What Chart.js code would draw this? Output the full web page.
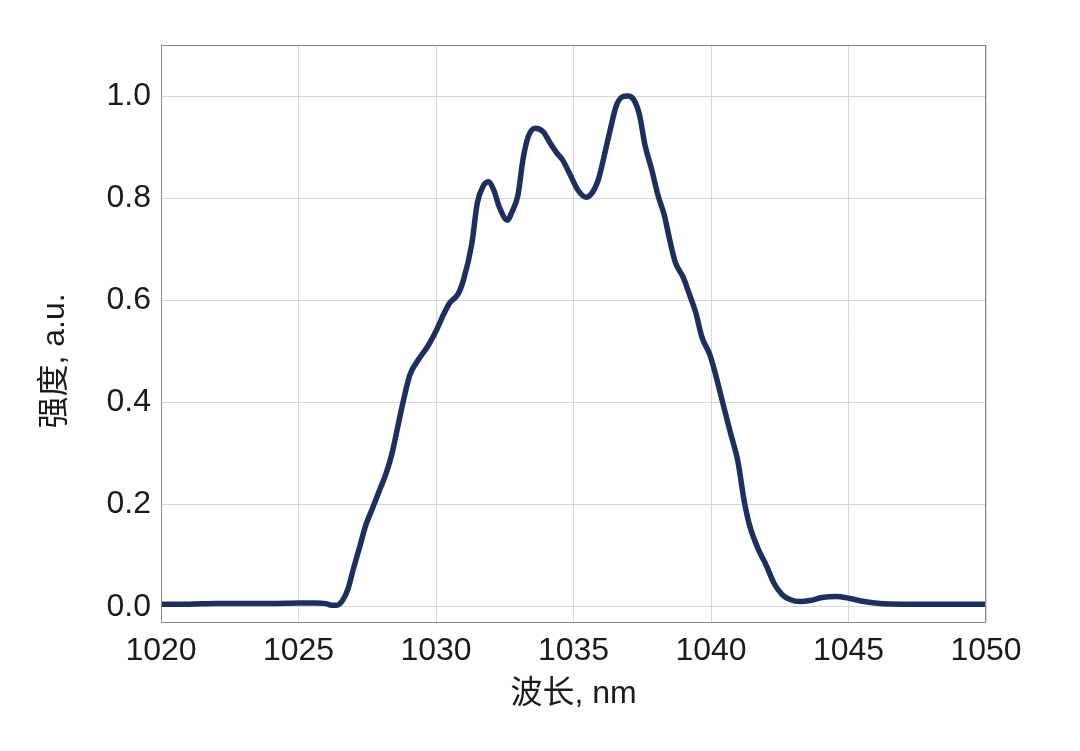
<!DOCTYPE html>
<html>
<head>
<meta charset="utf-8">
<script src="https://cdn.jsdelivr.net/npm/chart.js@4/dist/chart.umd.min.js"></script>
<style>
  html, body { margin: 0; padding: 0; background: #fff; }
  #wrap { width: 1080px; height: 751px; }
</style>
</head>
<body>
<div id="wrap"><canvas id="spectrum"></canvas></div>
<script>
// wavelength (nm) and intensity
const wavelength = [1020, 1021, 1022, 1023, 1024, 1025, 1025.6, 1026, 1026.2, 1026.4, 1026.6, 1026.8, 1027, 1027.24, 1027.45,
  1027.67, 1027.96, 1028.18, 1028.4, 1028.6, 1028.8, 1029.05, 1029.35, 1029.7, 1030, 1030.3, 1030.5, 1030.8,
  1031, 1031.3, 1031.5, 1031.7, 1031.9, 1032.1, 1032.3, 1032.6, 1032.76, 1032.98, 1033.16, 1033.35, 1033.6,
  1033.9, 1034.15, 1034.4, 1034.6, 1034.87, 1035.16, 1035.45, 1035.67, 1035.9, 1036.1, 1036.33, 1036.55,
  1036.76, 1036.98, 1037.2, 1037.4, 1037.6, 1037.85, 1038.07, 1038.3, 1038.5, 1038.7, 1039, 1039.2, 1039.45,
  1039.67, 1039.96, 1040.2, 1040.4, 1040.7, 1040.98, 1041.2, 1041.4, 1041.7, 1042, 1042.3, 1042.6, 1042.87,
  1043.24, 1043.6, 1044.04, 1044.55, 1045.05, 1045.56, 1046.15, 1047, 1048, 1049, 1050];
const intensity = [0.005, 0.005, 0.006, 0.006, 0.006, 0.007, 0.007, 0.006, 0.003, 0.003, 0.012, 0.035, 0.075, 0.12, 0.16,
  0.19, 0.23, 0.26, 0.30, 0.35, 0.40, 0.454, 0.483, 0.51, 0.54, 0.575, 0.595, 0.612,
  0.64, 0.71, 0.79, 0.822, 0.832, 0.816, 0.783, 0.757, 0.773, 0.806, 0.875, 0.92, 0.937,
  0.93, 0.908, 0.888, 0.875, 0.847, 0.816, 0.802, 0.81, 0.836, 0.879, 0.933, 0.98,
  0.998, 1.0, 0.992, 0.963, 0.904, 0.855, 0.806, 0.767, 0.718, 0.675, 0.644, 0.614, 0.575,
  0.528, 0.493, 0.448, 0.405, 0.342, 0.284, 0.209, 0.16, 0.115, 0.082, 0.045, 0.023, 0.014,
  0.01, 0.012, 0.018, 0.02, 0.016, 0.01, 0.006, 0.005, 0.005, 0.005, 0.005];
const xTicks = [1020, 1025, 1030, 1035, 1040, 1045, 1050];
const yTicks = [0, 0.2, 0.4, 0.6, 0.8, 1.0];
const xTitle = '波长, nm';
const yTitle = '强度, a.u.';

const points = wavelength.map((w, i) => ({ x: w, y: intensity[i] }));

const font = '"Liberation Sans", "Noto Sans CJK SC", sans-serif';

// plot frame + y title (the title sits a bit below the plot centre in the original)
const frame = {
  id: 'frame',
  afterDraw(chart) {
    const { ctx, chartArea: { left, top, width, height } } = chart;
    ctx.save();
    ctx.strokeStyle = '#8a8a8a';
    ctx.lineWidth = 1;
    ctx.strokeRect(left + 0.5, top + 0.5, width - 1, height);
    ctx.translate(55, 361);
    ctx.rotate(-Math.PI / 2);
    ctx.fillStyle = '#1a1a1a';
    ctx.font = '32px ' + font;
    ctx.textAlign = 'center';
    ctx.textBaseline = 'middle';
    ctx.fillText(yTitle, 0, 0);
    ctx.restore();
  }
};

new Chart(document.getElementById('spectrum'), {
  type: 'line',
  data: {
    datasets: [{
      data: points,
      borderColor: '#1e2f5f',
      borderWidth: 5.5,
      pointRadius: 0,
      fill: false,
      cubicInterpolationMode: 'monotone',
      borderCapStyle: 'round',
      borderJoinStyle: 'round'
    }]
  },
  options: {
    responsive: true,
    maintainAspectRatio: false,
    animation: false,
    layout: { padding: { left: 0, right: 94, top: 45, bottom: 38 } },
    plugins: { legend: { display: false }, tooltip: { enabled: false } },
    scales: {
      x: {
        type: 'linear',
        min: 1020,
        max: 1050,
        afterBuildTicks: (s) => { s.ticks = xTicks.map(v => ({ value: v })); },
        afterFit: (s) => { s.height = 91; },
        grid: { color: '#d6d6d6', lineWidth: 1, drawTicks: false },
        border: { display: false },
        ticks: { color: '#1a1a1a', font: { family: font, size: 32 }, padding: 10, maxRotation: 0, callback: v => String(v) },
        title: { display: true, text: xTitle, color: '#1a1a1a', font: { family: font, size: 32 }, padding: { top: 0, bottom: 0 } }
      },
      y: {
        min: -0.03,
        max: 1.1,
        afterBuildTicks: (s) => { s.ticks = yTicks.map(v => ({ value: v })); },
        afterFit: (s) => { s.width = 161; },
        grid: { color: '#d6d6d6', lineWidth: 1, drawTicks: false },
        border: { display: false },
        ticks: { color: '#1a1a1a', font: { family: font, size: 32 }, padding: 10, callback: v => v.toFixed(1) }
      }
    }
  },
  plugins: [frame]
});
</script>
</body>
</html>
